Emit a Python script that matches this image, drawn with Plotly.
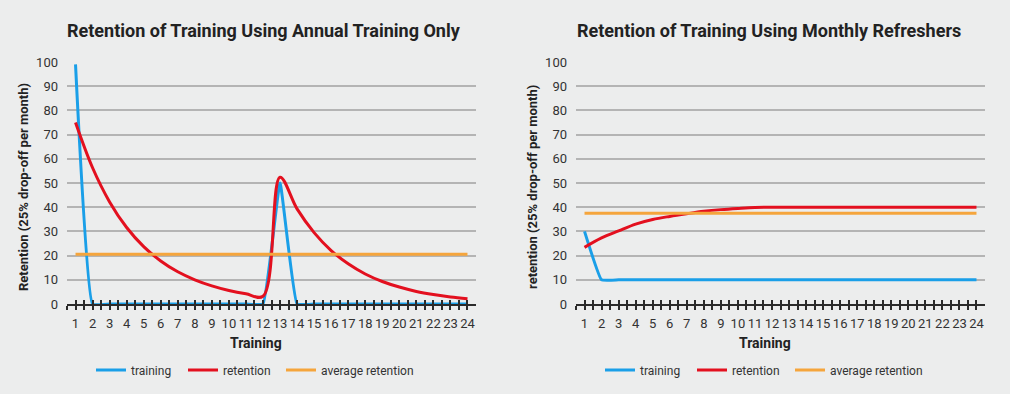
import plotly.graph_objects as go

# ---------------- data ----------------
months = list(range(1, 25))
tick_positions = [i / 2 for i in range(1, 49)]
tick_labels = [str(int(v)) if v == int(v) else "" for v in tick_positions]

annual_training = [99, 0, 0, 0, 0, 0, 0, 0, 0, 0, 0, 0,
                   50, 0, 0, 0, 0, 0, 0, 0, 0, 0, 0, 0]
annual_retention = [75.0, 56.3, 42.2, 31.6, 23.7, 17.8, 13.3, 10.0, 7.5, 5.6, 4.2, 3.2,
                    52.4, 39.3, 29.5, 22.1, 16.6, 12.4, 9.3, 7.0, 5.2, 3.9, 2.9, 2.2]
annual_average = [20.6, 20.6, 20.6, 20.6, 20.6, 20.6, 20.6, 20.6, 20.6, 20.6, 20.6, 20.6,
                  20.6, 20.6, 20.6, 20.6, 20.6, 20.6, 20.6, 20.6, 20.6, 20.6, 20.6, 20.6]

monthly_training = [30, 10, 10, 10, 10, 10, 10, 10, 10, 10, 10, 10,
                    10, 10, 10, 10, 10, 10, 10, 10, 10, 10, 10, 10]
monthly_retention = [23.4, 27.3, 30.2, 33.0, 34.9, 36.2, 37.3, 38.3, 39.0, 39.5, 39.9, 40.0,
                     40.0, 40.0, 40.0, 40.0, 40.0, 40.0, 40.0, 40.0, 40.0, 40.0, 40.0, 40.0]
monthly_average = [37.5, 37.5, 37.5, 37.5, 37.5, 37.5, 37.5, 37.5, 37.5, 37.5, 37.5, 37.5,
                   37.5, 37.5, 37.5, 37.5, 37.5, 37.5, 37.5, 37.5, 37.5, 37.5, 37.5, 37.5]

series_names = ["training", "retention", "average retention"]
titles = ["Retention of Training Using Annual Training Only",
          "Retention of Training Using Monthly Refreshers"]
y_titles = ["Retention (25% drop-off per month)", "retention (25% drop-off per month)"]
x_title = "Training"

# ---------------- style ----------------
BLUE = "#1A9FE8"
RED = "#E3101F"
ORANGE = "#F5A53C"
BG = "#ECEDED"
GRID = "#B4B4B4"
AXIS = "#2B2B2B"
TEXT = "#333333"
FONT = "Roboto"
colors = [BLUE, RED, ORANGE]
widths = [47, 53, 100]
smooth = [0.3, 1.0, 0]

fig = go.Figure()

panels = [
    (annual_training, annual_retention, annual_average, "x", "x3", "y", "legend"),
    (monthly_training, monthly_retention, monthly_average, "x2", "x4", "y2", "legend2"),
]
for tr, ret, avg, xa, xo, ya, lg in panels:
    for i, (name, vals, col, w) in enumerate(zip(series_names, [tr, ret, avg], colors, widths)):
        shape = "spline" if smooth[i] > 0 else "linear"
        line = dict(color=col, width=3, shape=shape)
        if smooth[i] > 0:
            line["smoothing"] = smooth[i]
        fig.add_trace(go.Scatter(
            x=months, y=vals, name=name, mode="lines", line=line,
            xaxis=(xo if i == 2 else xa), yaxis=ya, legend=lg, legendwidth=w,
            hoverinfo="skip",
        ))

L, R, T, B = 67, 25, 62, 90
W, H = 1010, 394
pw = W - L - R
ph = H - T - B

def px_x(p):
    return (p - L) / pw

def px_y(p):
    return (H - B - p) / ph

dom1 = [0, px_x(476)]
dom2 = [px_x(576), 1]

def xaxis_base(domain, anchor):
    return dict(
        domain=domain, anchor=anchor, range=[0.5, 24.5],
        tickmode="array", tickvals=tick_positions, ticktext=tick_labels,
        ticks="outside", ticklen=4, tickwidth=1.5, tickcolor=AXIS,
        showline=True, linecolor=AXIS, linewidth=2,
        showgrid=False, zeroline=False, fixedrange=True, automargin=False,
        tickfont=dict(family=FONT, size=13, color=TEXT),
        ticklabelstandoff=2,
    )

def xaxis_overlay(base, anchor):
    return dict(
        overlaying=base, anchor=anchor, range=[0.5, 24.5],
        tickmode="array", tickvals=tick_positions,
        ticks="inside", ticklen=4, tickwidth=1.5, tickcolor=AXIS,
        showticklabels=False, showline=False, showgrid=False, zeroline=False,
        fixedrange=True, automargin=False,
    )

def yaxis_base(anchor):
    return dict(
        domain=[0, 1], anchor=anchor, range=[0, 100], dtick=10, tick0=0,
        showgrid=True, gridcolor=GRID, gridwidth=1.5,
        zeroline=False, showline=False, ticks="", automargin=False,
        tickfont=dict(family=FONT, size=13, color=TEXT),
        ticklabelstandoff=8, fixedrange=True,
    )

legend_common = dict(orientation="h", xanchor="left", yanchor="middle",
                     xref="container", yref="container",
                     bgcolor="rgba(0,0,0,0)", font=dict(family=FONT, size=12, color=TEXT),
                     itemwidth=30, itemclick=False, itemdoubleclick=False)

fig.update_layout(
    width=W, height=H, autosize=False,
    margin=dict(l=L, r=R, t=T, b=B, pad=0),
    paper_bgcolor=BG, plot_bgcolor=BG,
    font=dict(family=FONT, color=TEXT),
    xaxis=xaxis_base(dom1, "y"),
    xaxis2=xaxis_base(dom2, "y2"),
    xaxis3=xaxis_overlay("x", "y"),
    xaxis4=xaxis_overlay("x2", "y2"),
    yaxis=yaxis_base("x"),
    yaxis2=yaxis_base("x2"),
    legend=dict(x=91 / W, y=(H - 370) / H, **legend_common),
    legend2=dict(x=600 / W, y=(H - 370) / H, **legend_common),
    showlegend=True,
)

ann = []
for cx, t in zip([264, 768.5], titles):
    ann.append(dict(text="<b>" + t + "</b>", x=px_x(cx), y=px_y(30), xref="paper", yref="paper",
                    xanchor="center", yanchor="middle", showarrow=False,
                    font=dict(family=FONT, size=18, color="#222222")))
for cx in [256, 765]:
    ann.append(dict(text="<b>" + x_title + "</b>", x=px_x(cx), y=px_y(343), xref="paper", yref="paper",
                    xanchor="center", yanchor="middle", showarrow=False,
                    font=dict(family=FONT, size=14, color="#222222")))
for cx, t in zip([23, 532], y_titles):
    ann.append(dict(text="<b>" + t + "</b>", x=px_x(cx), y=px_y(187), xref="paper", yref="paper",
                    xanchor="center", yanchor="middle", showarrow=False, textangle=-90,
                    font=dict(family=FONT, size=13, color="#222222")))
fig.update_layout(annotations=ann)

fig.write_html(
    "out.html",
    config={"displayModeBar": False},
    post_script="document.body.style.margin='0';document.body.style.background='" + BG + "';",
)
